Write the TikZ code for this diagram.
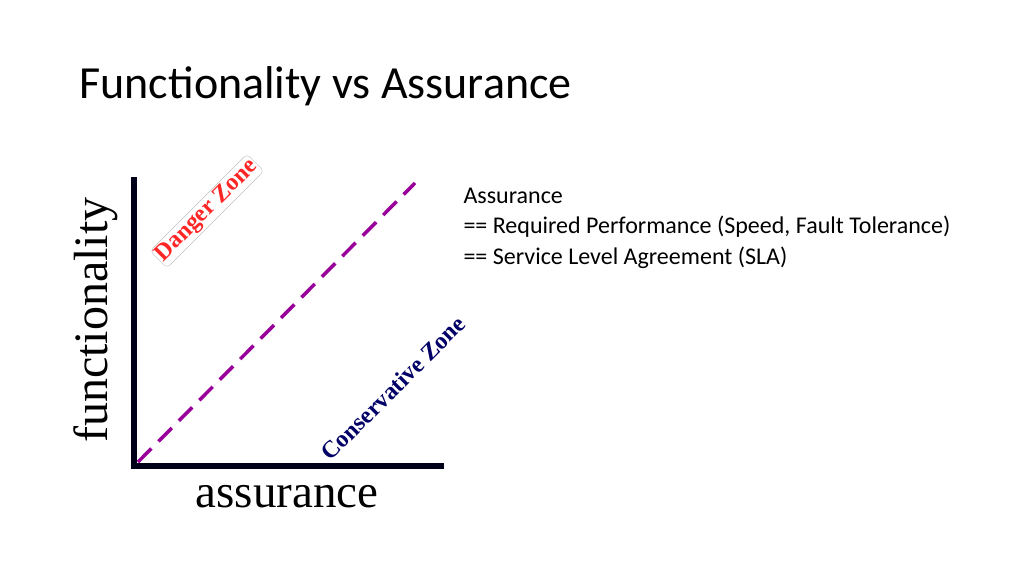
\documentclass[tikz,border=0pt]{standalone}
\usepackage{fontspec}
\setmainfont{Carlito}
\newfontfamily\serifx{Liberation Serif}
\begin{document}
\begin{tikzpicture}[x=1pt,y=-1pt,
  axis/.style={line width=6pt,draw=black!90!blue},
  zone/.style={font=\serifx\bfseries\fontsize{24}{24}\selectfont,rotate=45,inner sep=1.5pt},
  body/.style={anchor=west,font=\fontsize{24}{24}\selectfont}]
\useasboundingbox (0,0) rectangle (1024,576);
\node[anchor=west,font=\fontsize{46}{46}\selectfont] (title) at (76,86) {Functionality vs Assurance};
\coordinate (o) at (134,466);
\coordinate (ytop) at (134,177);
\coordinate (xend) at (444,466);
\draw[axis] (ytop) -- (134,469);
\draw[axis] (131,466) -- (xend);
\coordinate (d0) at (138,462);
\coordinate (d1) at (415,183);
\draw[draw=violet!80!magenta,line width=3.5pt,dash pattern=on 19pt off 10pt] (d0) -- (d1);
\node[rotate=90,font=\serifx\fontsize{48}{48}\selectfont] (fy) at (96,320) {functionality};
\node[font=\serifx\fontsize{47}{47}\selectfont] (fx) at (287,497) {assurance};
\node[zone,text=red!85!white,draw=gray!50,rounded corners=4pt] (dz) at (207,211) {Danger Zone};
\node[zone,text=blue!40!black] (cz) at (393,388) {Conservative Zone};
\node[body] (l1) at (460,196) {Assurance};
\node[body] (l2) at (460,227) {== Required Performance (Speed, Fault Tolerance)};
\node[body] (l3) at (460,258) {== Service Level Agreement (SLA)};
\end{tikzpicture}
\end{document}
